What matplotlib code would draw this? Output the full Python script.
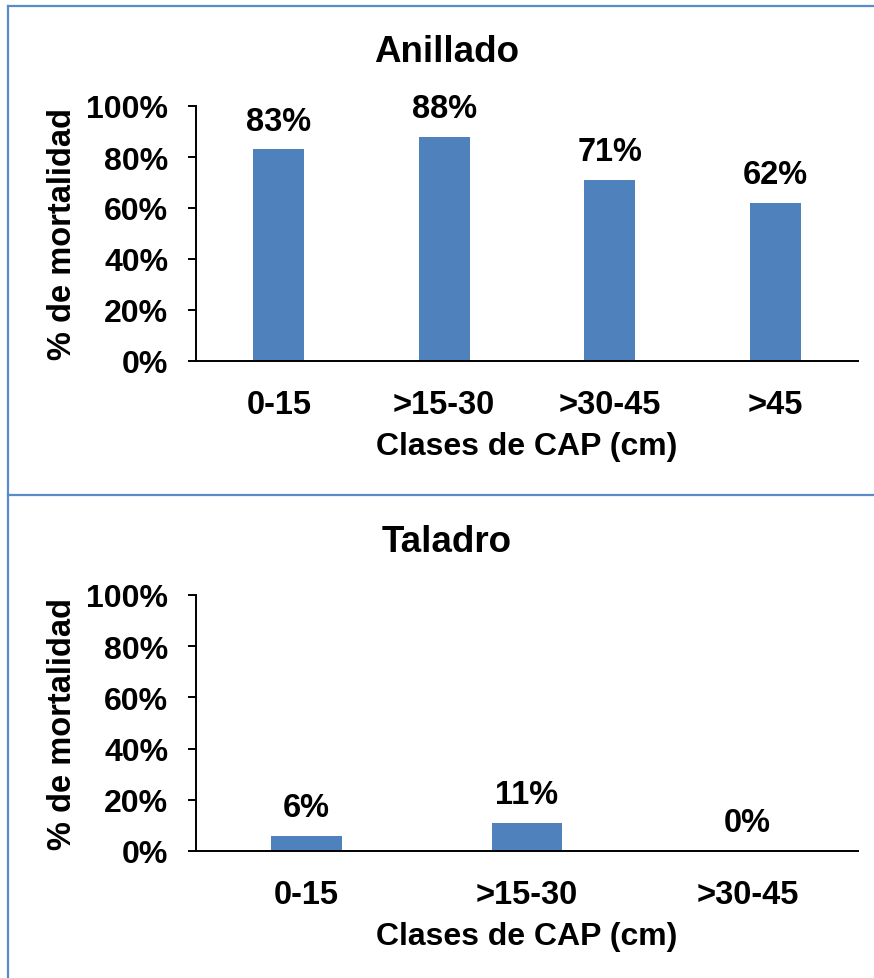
import matplotlib.pyplot as plt
from matplotlib.lines import Line2D

plt.rcParams['font.family'] = ['Liberation Sans', 'DejaVu Sans']
plt.rcParams['font.weight'] = 'bold'

# mortality by CAP class, one panel per treatment
anillado_clases = ["0-15", ">15-30", ">30-45", ">45"]
anillado_valores = [83, 88, 71, 62]

taladro_clases = ["0-15", ">15-30", ">30-45"]
taladro_valores = [6, 11, 0]

W, H = 874, 979
bar_color = "#4F81BD"
frame_color = "#5B8ACB"

fig = plt.figure(figsize=(W / 100, H / 100), dpi=100)


def px_axes(left, top, right, bottom):
    return fig.add_axes([left / W, 1 - bottom / H, (right - left) / W, (bottom - top) / H])


def draw_panel(ax, clases, valores, titulo, title_y, width):
    x = range(len(clases))
    bars = ax.bar(x, valores, width=width, color=bar_color)
    ax.set_xlim(-0.5, len(clases) - 0.5)
    ax.set_ylim(0, 100)
    ax.set_yticks(range(0, 101, 20))
    ax.set_yticklabels([f"{v}%" for v in range(0, 101, 20)])
    ax.set_xticks(list(x))
    ax.set_xticklabels(clases)
    for s in ["top", "right"]:
        ax.spines[s].set_visible(False)
    for s in ["left", "bottom"]:
        ax.spines[s].set_linewidth(1.4)
    ax.tick_params(axis="y", length=6, width=1.4, pad=14, labelsize=23)
    ax.tick_params(axis="x", length=0, pad=20, labelsize=23.5)
    for b, v in zip(bars, valores):
        ax.annotate(f"{v}%", (b.get_x() + b.get_width() / 2, v),
                    xytext=(0, 9), textcoords="offset points",
                    ha="center", va="bottom", fontsize=23.5, fontweight="bold")
    ax.set_xlabel("Clases de CAP (cm)", fontsize=23, fontweight="bold", labelpad=8)
    ax.set_ylabel("% de mortalidad", fontsize=23.5, fontweight="bold", labelpad=6)
    fig.text(447 / W, 1 - title_y / H, titulo, ha="center", va="center",
             fontsize=26.5, fontweight="bold")


ax1 = px_axes(196, 107, 858, 362)
draw_panel(ax1, anillado_clases, anillado_valores, "Anillado", 52, 0.31)

ax2 = px_axes(196, 596, 858, 852)
draw_panel(ax2, taladro_clases, taladro_valores, "Taladro", 542, 0.32)

# chart frames
for xs, ys in [((8, 8), (7, H)), ((8, W), (7, 7)), ((8, W), (496, 496))]:
    fig.add_artist(Line2D([xs[0] / W, xs[1] / W], [1 - ys[0] / H, 1 - ys[1] / H],
                          transform=fig.transFigure, color=frame_color, lw=1.6))

fig.savefig("out.png", dpi=100)
